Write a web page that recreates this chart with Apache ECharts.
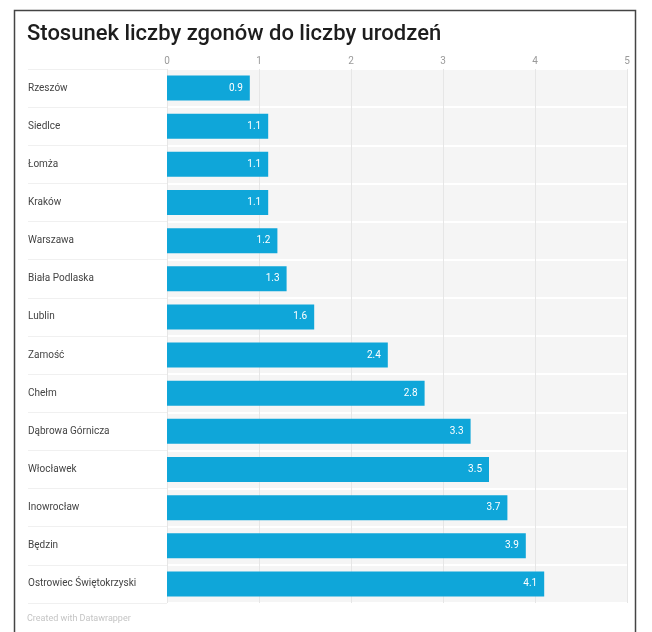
<!DOCTYPE html>
<html>
<head>
<meta charset="utf-8">
<script src="https://cdn.jsdelivr.net/npm/echarts@6/dist/echarts.min.js"></script>
<style>html,body{margin:0;padding:0;background:#fff}#c{width:652px;height:632px}</style>
</head>
<body>
<div id="c"></div>
<script>
const categories = ['Rzeszów','Siedlce','Łomża','Kraków','Warszawa','Biała Podlaska','Lublin','Zamość','Chełm','Dąbrowa Górnicza','Włocławek','Inowrocław','Będzin','Ostrowiec Świętokrzyski'];
const ratios = [0.9,1.1,1.1,1.1,1.2,1.3,1.6,2.4,2.8,3.3,3.5,3.7,3.9,4.1];
const xTicks = [0,1,2,3,4,5];

const chart = echarts.init(document.getElementById('c'));
chart.setOption({
  backgroundColor:'#fff',
  animation:false,
  textStyle:{fontFamily:'Roboto, sans-serif'},
  title:{
    text:'Stosunek liczby zgonów do liczby urodzeń',
    left:22, top:18,
    textStyle:{fontSize:22, fontWeight:500, color:'#1d1d1d', fontFamily:'Roboto'}
  },
  graphic:[
    {type:'rect', shape:{x:14.5,y:10.5,width:621,height:640}, style:{fill:'none', stroke:'#444', lineWidth:1.5}, silent:true},
    {type:'text', left:27, top:614, style:{text:'Created with Datawrapper', fill:'#c4c4c4', fontSize:9, fontFamily:'Roboto'}}
  ],
  grid:{left:167, right:25, top:69, bottom:29, containLabel:false},
  xAxis:{
    type:'value', position:'top', min:xTicks[0], max:xTicks[xTicks.length-1], interval:1,
    axisLine:{show:false}, axisTick:{show:false},
    axisLabel:{color:'#9a9a9a', fontSize:10, margin:3},
    splitLine:{show:true, lineStyle:{color:'#e6e6e6', width:1}}
  },
  yAxis:{
    type:'category', inverse:true, data:categories,
    axisLine:{show:false},
    axisTick:{show:true, length:139, lineStyle:{color:'#f0f0f0', width:1}},
    axisLabel:{align:'left', margin:139, color:'#444', fontSize:10},
    splitArea:{show:true, areaStyle:{color:['#f5f5f5','#f5f5f5']}},
    splitLine:{show:true, lineStyle:{color:'#ffffff', width:2}}
  },
  series:[{
    type:'bar', data:ratios, barWidth:25,
    itemStyle:{color:'#0fa6d9'},
    label:{show:true, position:'insideRight', color:'#fff', fontSize:10, distance:7,
      formatter:p=>p.value.toFixed(1)}
  }]
});
</script>
</body>
</html>
